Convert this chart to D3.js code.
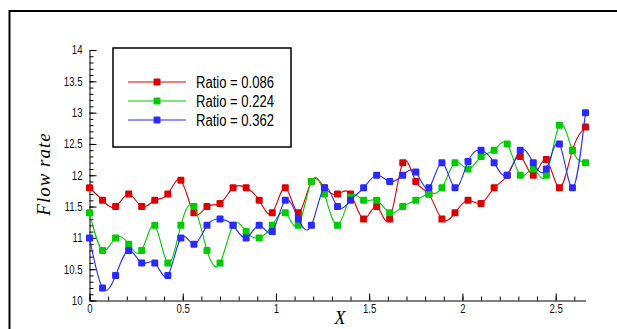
<!DOCTYPE html>
<html>
<head>
<meta charset="utf-8">
<script src="https://cdn.jsdelivr.net/npm/d3@7"></script>
<style>
  body { margin: 0; background: #fff; }
  svg { display: block; }
  .tick text { font-family: "Liberation Sans", Arial, sans-serif; font-size: 12px; fill: #111; }
  .axis path, .axis line { stroke: #000; }
  .legend text { font-family: "Liberation Sans", Arial, sans-serif; font-size: 16px; fill: #000; }
  .title { font-family: "Liberation Serif", "DejaVu Serif", serif; font-style: italic; fill: #000; }
</style>
</head>
<body>
<svg></svg>
<script>
// data, x step is 0.07
const xValues = d3.range(39).map((i) => { return +(i * 0.07).toFixed(2); });

const ratio086 = [11.8, 11.6, 11.5, 11.7, 11.5, 11.6, 11.7, 11.92, 11.4, 11.5,
  11.55, 11.8, 11.8, 11.6, 11.4, 11.8, 11.4, 11.9, 11.8, 11.7,
  11.7, 11.3, 11.5, 11.3, 12.2, 11.9, 11.7, 11.3, 11.4, 11.6,
  11.55, 11.8, 12.0, 12.3, 12.0, 12.25, 11.8, 12.4, 12.77];

const ratio224 = [11.4, 10.8, 11.0, 10.9, 10.8, 11.2, 10.6, 11.2, 11.5, 10.8,
  10.6, 11.2, 11.1, 11.0, 11.2, 11.4, 11.2, 11.9, 11.7, 11.2,
  11.65, 11.6, 11.6, 11.4, 11.5, 11.6, 11.7, 11.8, 12.2, 12.1,
  12.3, 12.4, 12.5, 12.0, 12.1, 12.0, 12.8, 12.4, 12.2];

const ratio362 = [11.0, 10.2, 10.4, 10.8, 10.6, 10.6, 10.4, 11.0, 10.9, 11.2,
  11.3, 11.2, 11.0, 11.2, 11.1, 11.6, 11.3, 11.2, 11.8, 11.5,
  11.6, 11.8, 12.0, 11.9, 12.0, 12.05, 11.8, 12.2, 11.8, 12.22,
  12.4, 12.2, 12.0, 12.4, 12.2, 12.1, 12.5, 11.8, 13.0];

const seriesNames = ["Ratio = 0.086", "Ratio = 0.224", "Ratio = 0.362"];
const seriesColors = ["#dd0000", "#00cc00", "#2a2aff"];

const xTicks = [0, 0.5, 1, 1.5, 2, 2.5];
const yTicks = [10, 10.5, 11, 11.5, 12, 12.5, 13, 13.5, 14];

const series = [ratio086, ratio224, ratio362].map((values, k) => {
  return {
    name: seriesNames[k],
    color: seriesColors[k],
    points: values.map((v, i) => { return { x: xValues[i], y: v }; })
  };
});

// squeeze text to look like a narrow font (no narrow face installed)
const narrow = (sel, factor) => {
  sel.each(function () {
    const w = this.getComputedTextLength();
    d3.select(this)
      .attr("textLength", w * factor)
      .attr("lengthAdjust", "spacingAndGlyphs");
  });
};

//prettier-ignore
const svg = d3.select("svg")
  .attr("width", 617)
  .attr("height", 329);

// outer frame (only top and left are in view)
//prettier-ignore
svg.append("path")
  .attr("d", "M9.5,340 V11 H620")
  .attr("fill", "none")
  .attr("stroke", "#000")
  .attr("stroke-width", 2);

//prettier-ignore
const scaleX = d3.scaleLinear()
  .domain([0, 2.66])
  .range([89.5, 585.5]);

//prettier-ignore
const scaleY = d3.scaleLinear()
  .domain([10, 14])
  .range([300.5, 50]);

// minor ticks every 0.1
//prettier-ignore
svg.append("g")
  .attr("class", "axis")
  .attr("transform", "translate(0,300.5)")
  .call(d3.axisBottom(scaleX).tickValues(d3.range(0, 2.65, 0.1)).tickSize(-4).tickFormat(""))
  .select(".domain").remove();

//prettier-ignore
svg.append("g")
  .attr("class", "axis")
  .attr("transform", "translate(89.5,0)")
  .call(d3.axisLeft(scaleY).tickValues(d3.range(10, 14.01, 0.1)).tickSize(-4).tickFormat(""))
  .select(".domain").remove();

//prettier-ignore
const axisXGroup = svg.append("g")
  .attr("class", "axis")
  .attr("transform", "translate(0,300.5)")
  .call(d3.axisBottom(scaleX).tickValues(xTicks).tickSize(-7).tickSizeOuter(0).tickPadding(4).tickFormat(d3.format("")));

//prettier-ignore
const axisYGroup = svg.append("g")
  .attr("class", "axis")
  .attr("transform", "translate(89.5,0)")
  .call(d3.axisLeft(scaleY).tickValues(yTicks).tickSize(-7).tickSizeOuter(0).tickPadding(7).tickFormat(d3.format("")));

axisXGroup.selectAll("text").call(narrow, 0.8);
axisYGroup.selectAll("text").call(narrow, 0.8);

// axis titles
//prettier-ignore
svg.append("text")
  .attr("class", "title")
  .attr("transform", "translate(50,174) rotate(-90)")
  .attr("text-anchor", "middle")
  .attr("font-size", 19)
  .attr("letter-spacing", 1)
  .text("Flow rate");

//prettier-ignore
svg.append("text")
  .attr("class", "title")
  .attr("x", 340)
  .attr("y", 324)
  .attr("text-anchor", "middle")
  .attr("font-size", 18)
  .text("X");

//prettier-ignore
const line = d3.line()
  .x((d) => { return scaleX(d.x); })
  .y((d) => { return scaleY(d.y); })
  .curve(d3.curveNatural);

//prettier-ignore
const groups = svg.selectAll("g.series")
  .data(series)
  .enter()
  .append("g")
  .attr("class", "series");

//prettier-ignore
groups.append("path")
  .attr("d", (d) => { return line(d.points); })
  .attr("fill", "none")
  .attr("stroke", (d) => { return d.color; })
  .attr("stroke-width", 1.1);

//prettier-ignore
groups.selectAll("rect")
  .data((d) => { return d.points.map((p) => { return { x: p.x, y: p.y, color: d.color }; }); })
  .enter()
  .append("rect")
  .attr("x", (d) => { return scaleX(d.x) - 3.5; })
  .attr("y", (d) => { return scaleY(d.y) - 3.5; })
  .attr("width", 7)
  .attr("height", 7)
  .attr("rx", 1.2)
  .attr("fill", (d) => { return d.color; });

// legend
//prettier-ignore
const legend = svg.append("g")
  .attr("class", "legend");

//prettier-ignore
legend.append("rect")
  .attr("x", 113)
  .attr("y", 48)
  .attr("width", 178)
  .attr("height", 99)
  .attr("fill", "#fff")
  .attr("stroke", "#000")
  .attr("stroke-width", 1.5);

//prettier-ignore
const items = legend.selectAll("g.item")
  .data(series)
  .enter()
  .append("g")
  .attr("class", "item")
  .attr("transform", (d, i) => { return `translate(0,${82 + i * 19})`; });

//prettier-ignore
items.append("line")
  .attr("x1", 128)
  .attr("x2", 186)
  .attr("stroke", (d) => { return d.color; })
  .attr("stroke-width", 1.1);

//prettier-ignore
items.append("rect")
  .attr("x", 153.5)
  .attr("y", -3.5)
  .attr("width", 7)
  .attr("height", 7)
  .attr("rx", 1.2)
  .attr("fill", (d) => { return d.color; });

//prettier-ignore
items.append("text")
  .attr("x", 196)
  .attr("y", 6)
  .attr("textLength", 78)
  .attr("lengthAdjust", "spacingAndGlyphs")
  .text((d) => { return d.name; });
</script>
</body>
</html>
